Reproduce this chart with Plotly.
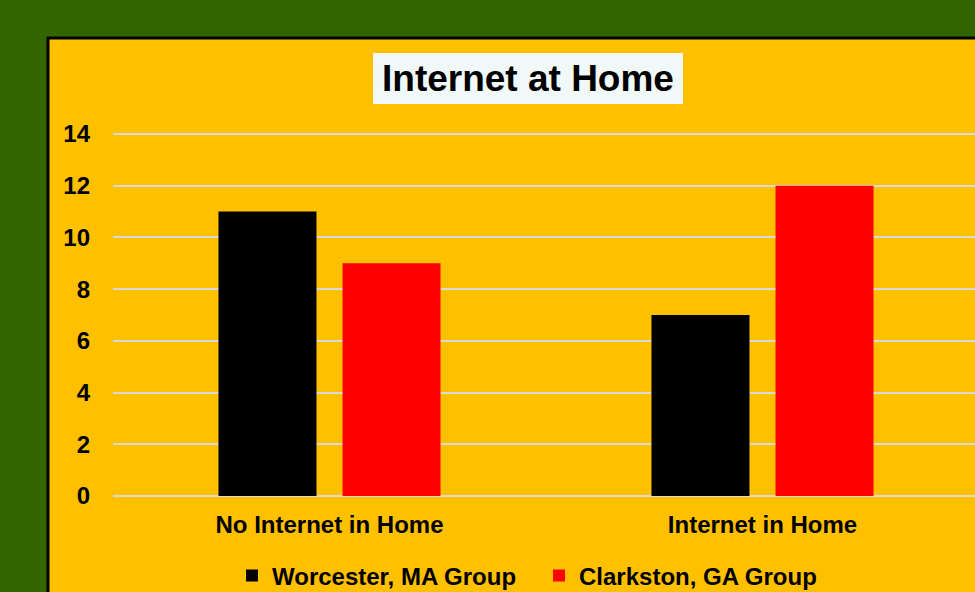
import plotly.graph_objects as go

categories = ["No Internet in Home", "Internet in Home"]
worcester = [11, 7]
clarkston = [9, 12]
series_names = ["Worcester, MA Group", "Clarkston, GA Group"]
y_ticks = [0, 2, 4, 6, 8, 10, 12, 14]

W, H = 975, 592
unit_px = 362 / 14
extra = 3
L, R, T, B = 113, 0, 134 - extra, 96
pw, ph = W - L - R, H - T - B
y_top = 14 + extra / unit_px

def px(x):
    return (x - L) / pw

def py(y):
    return (H - B - y) / ph

font = "Liberation Sans, Arial, sans-serif"

fig = go.Figure()
fig.add_trace(go.Bar(x=categories, y=worcester, name=series_names[0],
                     marker=dict(color="#000000", line=dict(width=0))))
fig.add_trace(go.Bar(x=categories, y=clarkston, name=series_names[1],
                     marker=dict(color="#FF0000", line=dict(width=0))))

cat_px = 433
fig.update_layout(
    width=W, height=H, autosize=False,
    margin=dict(l=L, r=R, t=T, b=B, pad=0),
    paper_bgcolor="#336600",
    plot_bgcolor="rgba(0,0,0,0)",
    barmode="group", bargap=0.427, bargroupgap=0.21,
    font=dict(family=font, color="#000000", size=24),
    hovermode=False,
    showlegend=True,
    legend=dict(orientation="h", xref="container", yref="container",
                x=232 / W, y=1 - 576 / H, xanchor="left", yanchor="middle",
                font=dict(family=font, size=24, color="#000000", weight="bold"),
                bgcolor="rgba(0,0,0,0)", itemwidth=30, entrywidth=262,
                traceorder="normal"),
    xaxis=dict(range=[-0.5, -0.5 + pw / cat_px], showgrid=False, zeroline=False,
               showline=False, ticks="", fixedrange=True, ticklabelstandoff=12,
               tickfont=dict(family=font, size=24, color="#000000", weight="bold")),
    yaxis=dict(range=[0, y_top], tickvals=y_ticks, showgrid=True,
               gridcolor="#D9D9D9", gridwidth=2, zeroline=True,
               zerolinecolor="#D9D9D9", zerolinewidth=2, fixedrange=True,
               showline=False, ticks="", ticklabelstandoff=22,
               tickfont=dict(family=font, size=24, color="#000000", weight="bold")),
    shapes=[
        dict(type="rect", xref="paper", yref="paper", layer="below",
             x0=px(48), x1=px(1010), y0=py(640), y1=py(38),
             fillcolor="#FFC000", line=dict(color="#000000", width=3)),
        dict(type="rect", xref="paper", yref="paper", layer="below",
             x0=px(373), x1=px(683), y0=py(104), y1=py(53),
             fillcolor="#F0F8F8", line=dict(width=0)),
    ],
    annotations=[
        dict(text="<b>Internet at Home</b>", xref="paper", yref="paper",
             x=px(528), y=py(79), xanchor="center", yanchor="middle",
             showarrow=False,
             font=dict(family=font, size=37, color="#000000")),
    ],
)

fig.write_html("out.html", config=dict(displayModeBar=False),
               post_script="document.body.style.margin='0';document.body.style.overflow='hidden';")
